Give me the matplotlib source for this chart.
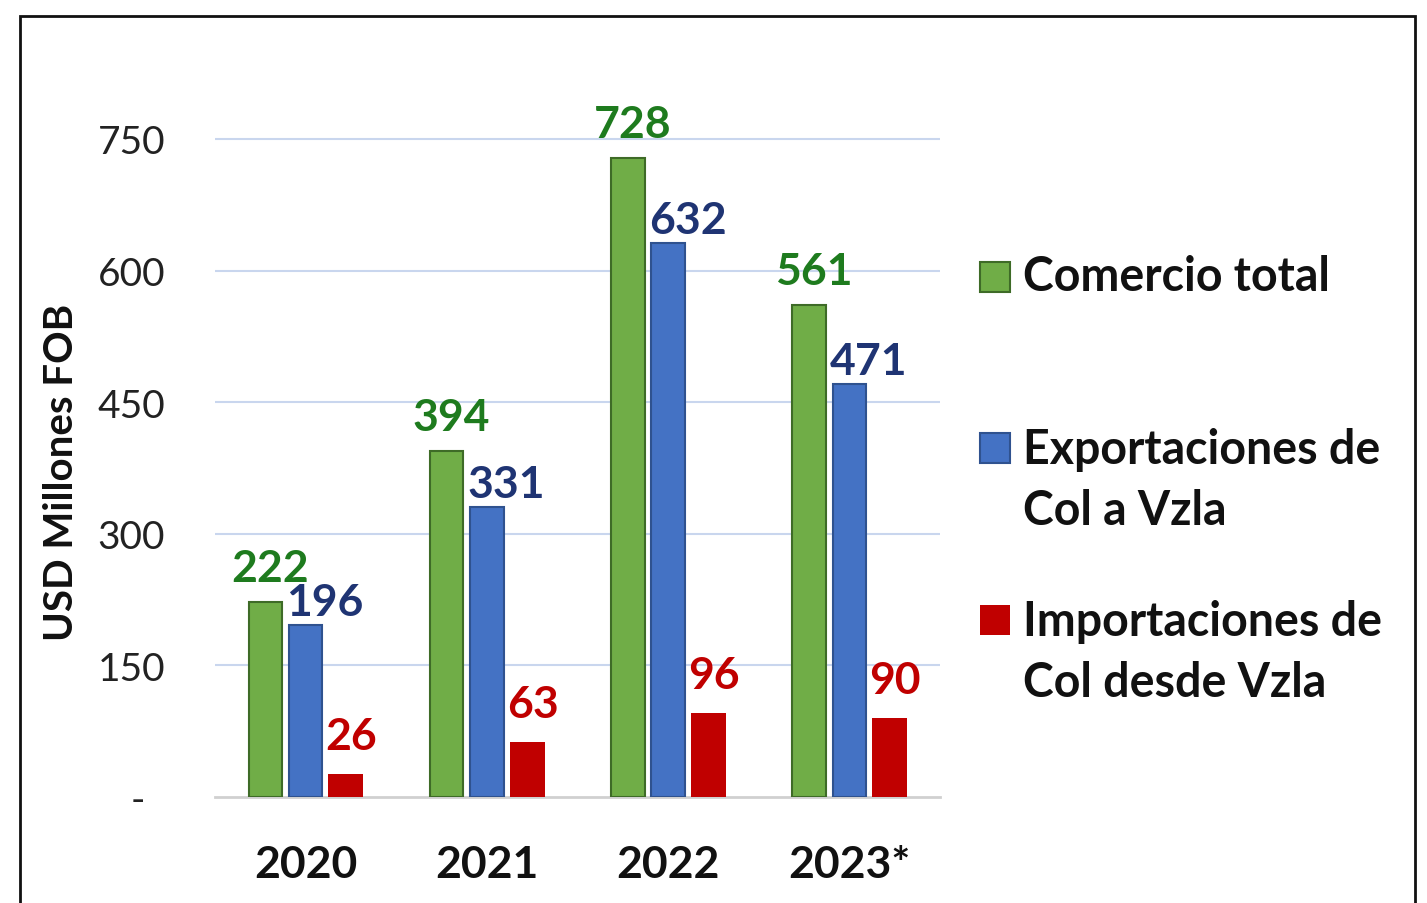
import matplotlib
matplotlib.use("Agg")
import matplotlib.pyplot as plt
from matplotlib.patches import Rectangle
import numpy as np

years = ["2020", "2021", "2022", "2023*"]
comercio = [222, 394, 728, 561]
exportaciones = [196, 331, 632, 471]
importaciones = [26, 63, 96, 90]
series_names = ["Comercio total", "Exportaciones de\nCol a Vzla", "Importaciones de\nCol desde Vzla"]
yticks = [0, 150, 300, 450, 600, 750]
ytick_labels = ["-  ", "150", "300", "450", "600", "750"]

FONT = ["Lato", "DejaVu Sans"]
plt.rcParams["font.family"] = FONT

W, H = 1427, 904
fig = plt.figure(figsize=(W / 100, H / 100), dpi=100)

def fx(px):
    return px / W

def fy(py):
    return 1 - py / H

# axes: x 215..940, y0 at 798, 750 at 140
ppu = (798 - 140) / 750.0
top_val = 800
ax_top_px = 798 - top_val * ppu
ax_w = fx(940) - fx(215)
ax = fig.add_axes([fx(215), fy(798), ax_w, (798 - ax_top_px) / H])
ax.set_xlim(-0.5, 3.5)
ax.set_ylim(0, top_val)

x = np.arange(len(years))
w = 0.185
off = 0.222
green, green_e = "#70AD47", "#3E6B27"
blue, blue_e = "#4472C4", "#2F528F"
red = "#C00000"
green_t, blue_t, red_t = "#1E7B1E", "#1F3473", "#C00000"

ax.bar(x - off, comercio, w, color=green, edgecolor=green_e, linewidth=1.5, zorder=3)
ax.bar(x, exportaciones, w, color=blue, edgecolor=blue_e, linewidth=1.5, zorder=3)
ax.bar(x + off, importaciones, w * 1.05, color=red, edgecolor="none", zorder=3)

LBL = 32
for xi, v in zip(x, comercio):
    ax.annotate(str(v), (xi - off, v), xytext=(3.6, 15), textcoords="offset points",
                ha="center", va="baseline", fontsize=LBL, fontweight="bold", color=green_t)
for xi, v in zip(x, exportaciones):
    ax.annotate(str(v), (xi, v), xytext=(14, 7), textcoords="offset points",
                ha="center", va="baseline", fontsize=LBL, fontweight="bold", color=blue_t)
for xi, v in zip(x, importaciones):
    ax.annotate(str(v), (xi + off, v), xytext=(4, 18), textcoords="offset points",
                ha="center", va="baseline", fontsize=LBL, fontweight="bold", color=red_t)

ax.set_yticks(yticks)
ax.set_yticklabels(ytick_labels, fontsize=28, color="#222222")
ax.set_xticks(x)
ax.set_xticklabels(years, fontsize=32, fontweight="bold", color="#111111")
ax.tick_params(axis="y", length=0, pad=36)
ax.tick_params(axis="x", length=0, pad=34)
for yv in yticks[1:]:
    ax.axhline(yv, color="#C9D6EE", linewidth=1.5, zorder=1)
for s in ["top", "right", "left"]:
    ax.spines[s].set_visible(False)
ax.spines["bottom"].set_color("#D0D0D0")
ax.spines["bottom"].set_linewidth(2)
ax.set_ylabel("USD Millones FOB", fontsize=29, fontweight="bold", color="#111111")
ax.yaxis.set_label_coords(fx(80 - 215) / ax_w, (798 - 472) / (798 - ax_top_px))

# manual legend
leg_items = [(green, green_e, 263, 277, series_names[0]),
             (blue, blue_e, 434, 450, series_names[1]),
             (red, "none", 606, 622, series_names[2])]
for fc, ec, sq_top, ty, label in leg_items:
    fig.patches.append(Rectangle((fx(980), fy(sq_top + 30)), fx(30), 30 / H,
                                 facecolor=fc, edgecolor=ec, linewidth=1.5,
                                 transform=fig.transFigure, figure=fig))
    for i, ln in enumerate(label.split("\n")):
        fig.text(fx(1023), fy(ty + i * 61), ln, fontsize=33.5, fontweight="bold",
                 va="center", ha="left", color="#111111")

# outer frame
fig.patches.append(Rectangle((fx(20), fy(960)), fx(1415 - 20), (960 - 17) / H,
                             facecolor="none", edgecolor="#111111", linewidth=2,
                             transform=fig.transFigure, figure=fig))

fig.savefig("out.png", dpi=100)
